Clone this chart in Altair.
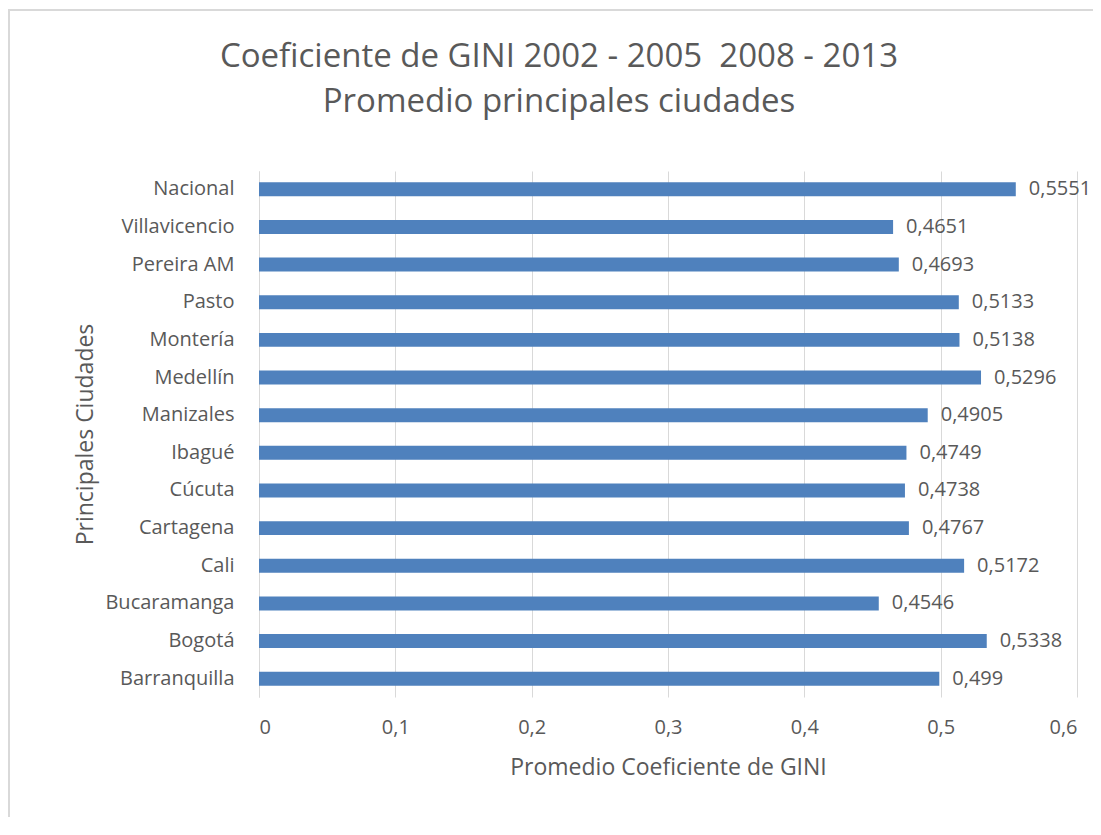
import altair as alt
import pandas as pd

cities = ["Nacional", "Villavicencio", "Pereira AM", "Pasto", "Montería", "Medellín",
          "Manizales", "Ibagué", "Cúcuta", "Cartagena", "Cali", "Bucaramanga",
          "Bogotá", "Barranquilla"]
gini = [0.5551, 0.4651, 0.4693, 0.5133, 0.5138, 0.5296,
        0.4905, 0.4749, 0.4738, 0.4767, 0.5172, 0.4546,
        0.5338, 0.499]

df = pd.DataFrame({"ciudad": cities, "gini": gini})
df["etiqueta"] = [str(v).replace(".", ",") for v in gini]

FONT = "Open Sans"
GREY = "#595959"

y_enc = alt.Y("ciudad:N", sort=cities,
              scale=alt.Scale(paddingInner=0.63, paddingOuter=0.3),
              axis=alt.Axis(title="Principales Ciudades", labelPadding=25, ticks=False,
                            domainColor="#d9d9d9", titlePadding=7))
x_enc = alt.X("gini:Q", scale=alt.Scale(domain=[0, 0.6], nice=False),
              axis=alt.Axis(title="Promedio Coeficiente de GINI", values=[0, 0.1, 0.2, 0.3, 0.4, 0.5, 0.6],
                            labelExpr="replace(format(datum.value, '.1~f'), '.', ',')",
                            ticks=False, domain=False, gridColor="#d9d9d9", labelPadding=20,
                            titlePadding=19))

bars = alt.Chart(df).mark_bar(color="#4f81bd").encode(x=x_enc, y=y_enc)
labels = alt.Chart(df).mark_text(align="left", dx=13, font=FONT, fontSize=20, color=GREY).encode(
    x="gini:Q", y=alt.Y("ciudad:N", sort=cities), text="etiqueta:N")

border_df = pd.DataFrame({"k": [0]})
left_border = alt.Chart(border_df).mark_rule(color="#d9d9d9", strokeWidth=2).encode(
    x=alt.value(-250), y=alt.value(-161), y2=alt.value(680))
top_border = alt.Chart(border_df).mark_rule(color="#d9d9d9", strokeWidth=2).encode(
    x=alt.value(-251), x2=alt.value(850), y=alt.value(-161))

chart = alt.layer(left_border, top_border, bars, labels).properties(
    width=818, height=526,
    title=alt.TitleParams(["Coeficiente de GINI 2002 - 2005\u00a0 2008 - 2013", "Promedio principales ciudades"],
                          fontSize=33, font=FONT, color=GREY, fontWeight="normal",
                          lineHeight=45, anchor="middle", dx=-109, offset=-110),
    padding={"left": 251, "top": 163, "right": 16, "bottom": 120},
    autosize=alt.AutoSizeParams(type="none"),
).configure(background="white").configure_view(stroke=None).configure_axis(
    labelFont=FONT, titleFont=FONT, labelFontSize=20, titleFontSize=23,
    labelColor=GREY, titleColor=GREY, titleFontWeight="normal",
)

chart.save("out.html", embed_options={"renderer": "svg", "actions": False})
